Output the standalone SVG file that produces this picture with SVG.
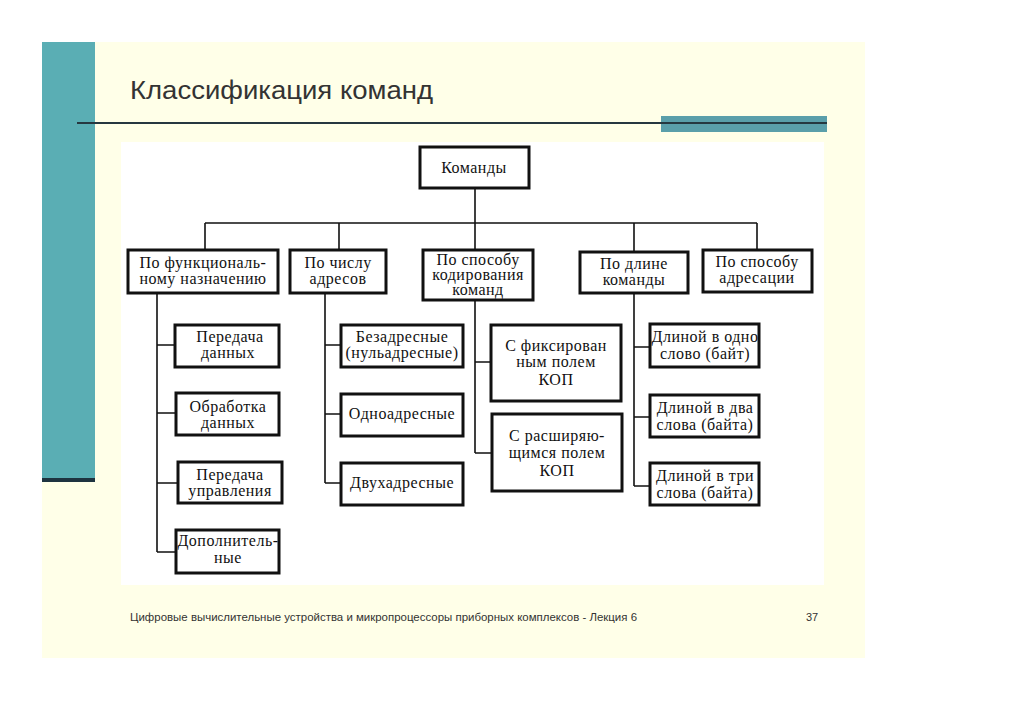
<svg xmlns="http://www.w3.org/2000/svg" width="1024" height="723" viewBox="0 0 1024 723">
<style>
.box{fill:#fff;stroke:#111;stroke-width:3}
.t{font-family:"Liberation Serif","Times New Roman",serif;font-size:16px;letter-spacing:0.5px;fill:#111;text-anchor:middle}
.c{fill:none;stroke:#111;stroke-width:1.6}
</style>
<rect x="0" y="0" width="1024" height="723" fill="#fff"/>
<g id="slide">
<rect x="42" y="42" width="823" height="616" fill="#FFFFE8"/>
<rect x="42" y="42" width="53" height="437" fill="#5AAEB4"/>
<rect x="42" y="478" width="53" height="4" fill="#1e3440"/>
<text x="130" y="99" font-family="Liberation Sans, Arial, sans-serif" font-size="26" fill="#333" textLength="303" lengthAdjust="spacingAndGlyphs">Классификация команд</text>
<rect x="661" y="116" width="166" height="16" fill="#5A9FAA"/>
<line x1="77" y1="123" x2="827" y2="123" stroke="#263840" stroke-width="2"/>
<rect x="121" y="142" width="703" height="443" fill="#fff"/>
<text x="130" y="621" font-family="Liberation Sans, Arial, sans-serif" font-size="11" fill="#333" textLength="507" lengthAdjust="spacingAndGlyphs">Цифровые вычислительные устройства и микропроцессоры приборных комплексов - Лекция 6</text>
<text x="806" y="621" font-family="Liberation Sans, Arial, sans-serif" font-size="11" fill="#333">37</text>
</g>
<g id="connectors">
<path class="c" d="M475 188V250M205 223H757M205 223V250M339 223V250M634 223V252M757 223V250"/>
<path class="c" d="M157 293V552M157 345H175M157 413H176M157 483H178M157 552H176"/>
<path class="c" d="M325 293V483M325 345H341M325 414H341M325 483H341"/>
<path class="c" d="M475 300V453M475 362H491M475 453H492"/>
<path class="c" d="M634 294V486M634 347H650M634 417H650M634 486H650"/>
</g>
<g id="n-root"><rect class="box" x="420" y="147" width="109" height="41"/><text class="t" x="474" y="173">Команды</text></g>
<g id="n-func"><rect class="box" x="128" y="250" width="150" height="43"/><text class="t" x="203" y="268">По функциональ-</text><text class="t" x="203" y="284">ному назначению</text></g>
<g id="n-addr"><rect class="box" x="290" y="250" width="96" height="43"/><text class="t" x="338" y="268">По числу</text><text class="t" x="338" y="284">адресов</text></g>
<g id="n-code"><rect class="box" x="423" y="250" width="110" height="50"/><text class="t" x="478" y="265">По способу</text><text class="t" x="478" y="280">кодирования</text><text class="t" x="478" y="295">команд</text></g>
<g id="n-len"><rect class="box" x="580" y="252" width="108" height="41"/><text class="t" x="634" y="269">По длине</text><text class="t" x="634" y="285">команды</text></g>
<g id="n-adm"><rect class="box" x="703" y="250" width="109" height="42"/><text class="t" x="757" y="267">По способу</text><text class="t" x="757" y="283">адресации</text></g>
<g id="n-f1"><rect class="box" x="175" y="325" width="104" height="42"/><text class="t" x="230" y="342">Передача</text><text class="t" x="228" y="358">данных</text></g>
<g id="n-f2"><rect class="box" x="176" y="393" width="103" height="42"/><text class="t" x="228" y="412">Обработка</text><text class="t" x="228" y="428">данных</text></g>
<g id="n-f3"><rect class="box" x="178" y="462" width="104" height="41"/><text class="t" x="230" y="480">Передача</text><text class="t" x="230" y="496">управления</text></g>
<g id="n-f4"><rect class="box" x="176" y="530" width="103" height="43"/><text class="t" x="228" y="546">Дополнитель-</text><text class="t" x="228" y="563">ные</text></g>
<g id="n-a1"><rect class="box" x="341" y="325" width="122" height="42"/><text class="t" x="402" y="342">Безадресные</text><text class="t" x="402" y="358">(нульадресные)</text></g>
<g id="n-a2"><rect class="box" x="341" y="394" width="122" height="42"/><text class="t" x="402" y="419">Одноадресные</text></g>
<g id="n-a3"><rect class="box" x="341" y="463" width="122" height="42"/><text class="t" x="402" y="488">Двухадресные</text></g>
<g id="n-c1"><rect class="box" x="491" y="325" width="130" height="76"/><text class="t" x="556" y="351">С фиксирован</text><text class="t" x="556" y="367">ным полем</text><text class="t" x="556" y="385">КОП</text></g>
<g id="n-c2"><rect class="box" x="492" y="414" width="130" height="77"/><text class="t" x="557" y="441">С расширяю-</text><text class="t" x="557" y="458">щимся полем</text><text class="t" x="557" y="476">КОП</text></g>
<g id="n-l1"><rect class="box" x="650" y="324" width="109" height="43"/><text class="t" x="705" y="342">Длиной в одно</text><text class="t" x="705" y="359">слово (байт)</text></g>
<g id="n-l2"><rect class="box" x="650" y="395" width="109" height="42"/><text class="t" x="705" y="413">Длиной в два</text><text class="t" x="705" y="430">слова (байта)</text></g>
<g id="n-l3"><rect class="box" x="650" y="463" width="109" height="42"/><text class="t" x="705" y="481">Длиной в три</text><text class="t" x="705" y="498">слова (байта)</text></g>
</svg>
